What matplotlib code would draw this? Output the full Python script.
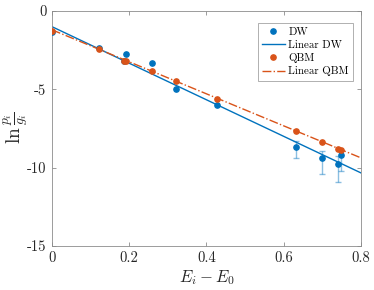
import matplotlib
matplotlib.use("Agg")
import matplotlib.pyplot as plt
import numpy as np

plt.rcParams['mathtext.fontset'] = 'cm'
plt.rcParams['font.family'] = ['cmr10', 'DejaVu Serif']
plt.rcParams['axes.unicode_minus'] = False

# Energy gaps E_i - E_0
dw_x = [0.0, 0.121, 0.192, 0.187, 0.26, 0.32, 0.428, 0.631, 0.699, 0.740, 0.749]
dw_y = [-1.36, -2.38, -2.76, -3.18, -3.33, -4.99, -6.0, -8.68, -9.38, -9.75, -9.21]
# asymmetric error bars (only the high-energy DW points have them)
dw_err_lo = [0, 0, 0, 0, 0, 0, 0, 0.70, 1.00, 1.19, 1.03]
dw_err_hi = [0, 0, 0, 0, 0, 0, 0, 0.36, 0.46, 0.47, 0.31]

qbm_x = [0.0, 0.121, 0.187, 0.192, 0.26, 0.32, 0.428, 0.631, 0.699, 0.740, 0.749]
qbm_y = [-1.25, -2.44, -3.18, -3.2, -3.86, -4.48, -5.6, -7.64, -8.34, -8.79, -8.9]

# linear fits: intercept, slope
dw_fit = (-1.0, -11.67)
qbm_fit = (-1.2, -10.22)

xticks = [0, 0.2, 0.4, 0.6, 0.8]
xticklabels = ['0', '0.2', '0.4', '0.6', '0.8']
yticks = [0, -5, -10, -15]
yticklabels = ['0', '-5', '-10', '-15']

blue = '#0072BD'
orange = '#D95319'
axcol = '#8c8c8c'

fig = plt.figure(figsize=(3.74, 2.90), dpi=100)
ax = fig.add_axes([0.139, 0.152, 0.826, 0.810])

xs = np.array([0, 0.8])
idx = [i for i in range(len(dw_x)) if dw_err_lo[i] > 0]
ax.errorbar([dw_x[i] for i in idx], [dw_y[i] for i in idx],
            yerr=[[dw_err_lo[i] for i in idx], [dw_err_hi[i] for i in idx]],
            fmt='none', ecolor=blue, alpha=0.45, elinewidth=1.0, capsize=2.5,
            capthick=1.0, zorder=1)
ax.plot(dw_x, dw_y, 'o', color=blue, ms=3.8, label='DW', zorder=3)
ax.plot(xs, dw_fit[0] + dw_fit[1] * xs, '-', color=blue, lw=1.0,
        label='Linear DW', zorder=2)
ax.plot(qbm_x, qbm_y, 'o', color=orange, ms=3.8, label='QBM', zorder=4)
ax.plot(xs, qbm_fit[0] + qbm_fit[1] * xs, '-.', color=orange, lw=1.0,
        label='Linear QBM', zorder=2)

ax.set_xlim(0, 0.8)
ax.set_ylim(-15, 0)
ax.set_xticks(xticks)
ax.set_xticklabels(xticklabels)
ax.set_yticks(yticks)
ax.set_yticklabels(yticklabels)
ax.tick_params(direction='in', length=3, width=0.6, colors=axcol,
               labelcolor='#262626', labelsize=10.5, top=True, right=True, pad=4)
for s in ax.spines.values():
    s.set_color(axcol)
    s.set_linewidth(0.6)

ax.set_xlabel(r'$E_i - E_0$', fontsize=12, color='#262626', labelpad=2)
ax.set_ylabel(r'$\ln\frac{p_i}{g_i}$', fontsize=14, color='#262626')
ax.yaxis.set_label_coords(-0.072, 0.5)

leg = ax.legend(loc='upper right', fontsize=7.9, frameon=True, fancybox=False,
                edgecolor=axcol, borderpad=0.4, labelspacing=0.3,
                handlelength=2.1, handletextpad=0.3, borderaxespad=0.0,
                bbox_to_anchor=(0.975, 0.95), numpoints=1)
leg.get_frame().set_linewidth(0.6)

fig.savefig('out.png', dpi=100)
